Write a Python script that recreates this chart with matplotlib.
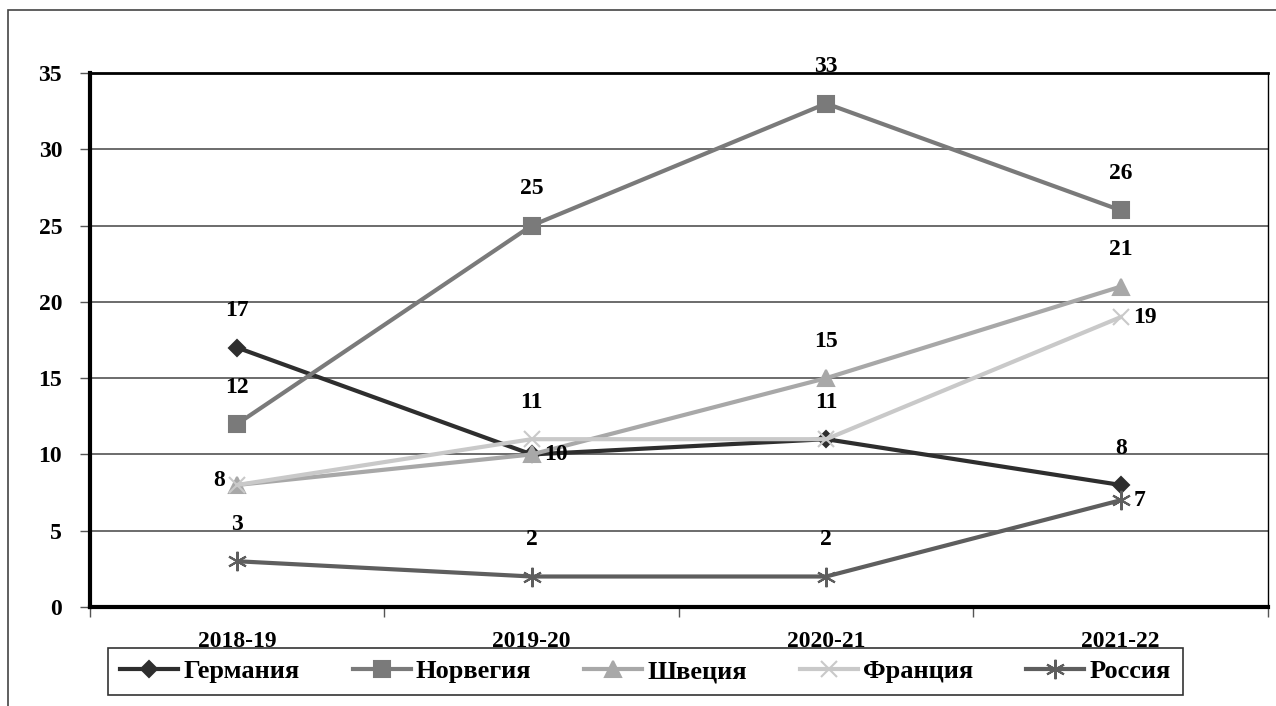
import matplotlib
matplotlib.use("Agg")
import matplotlib.pyplot as plt
from matplotlib.patches import Rectangle

# data
seasons = ["2018-19", "2019-20", "2020-21", "2021-22"]
germany = [17, 10, 11, 8]
norway = [12, 25, 33, 26]
sweden = [8, 10, 15, 21]
france = [8, 11, 11, 19]
russia = [3, 2, 2, 7]

names = ["Германия", "Норвегия", "Швеция", "Франция", "Россия"]
values = [germany, norway, sweden, france, russia]

# look of each series (grayscale scan)
colors = ["#2e2e2e", "#7a7a7a", "#a8a8a8", "#c9c9c9", "#5e5e5e"]
markers = ["D", "s", "^", "x", (6, 2, 0)]
msizes = [8, 12, 11, 11, 14]
# where each value label sits: a=above, r=right, l=left, None=hidden
label_pos = [
    ["a", "r", "a", "a"],
    ["a", "a", "a", "a"],
    [None, None, "a", "a"],
    ["l", "a", None, "r"],
    ["a", "a", "a", "r"],
]

FAM = ["Liberation Serif", "DejaVu Serif"]
plt.rcParams["font.family"] = FAM
plt.rcParams["font.weight"] = "bold"

fig = plt.figure(figsize=(12.76, 7.06), dpi=100)
ax = fig.add_axes([0.0705, 0.1402, 0.9232, 0.7564])

x = range(len(seasons))
for name, vals, c, m, ms, lp in zip(names, values, colors, markers, msizes, label_pos):
    ax.plot(x, vals, color=c, lw=3, marker=m, ms=ms, mec=c, mfc=c,
            mew=1.5, label=name, zorder=3)
    for xi, v, p in zip(x, vals, lp):
        if p is None:
            continue
        if p == "a":
            off, ha, va = (0, 19), "center", "bottom"
        elif p == "r":
            off, ha, va = (9, 0), "left", "center"
        else:
            off, ha, va = (-9, 3), "right", "center"
        ax.annotate(str(v), (xi, v), xytext=off, textcoords="offset points",
                    ha=ha, va=va, fontsize=17, fontweight="bold", color="black",
                    family=FAM, zorder=5)

ax.set_xlim(-0.5, 3.5)
ax.set_ylim(0, 35)
ax.set_yticks(range(0, 36, 5))
ax.set_xticks(list(x))
ax.set_xticklabels(seasons)
ax.set_xticks([-0.5, 0.5, 1.5, 2.5, 3.5], minor=True)
ax.tick_params(axis="x", which="major", length=0, pad=17, labelsize=17)
ax.tick_params(axis="x", which="minor", length=7, width=1, color="#555555")
ax.tick_params(axis="y", length=7, width=1, pad=13, labelsize=17, color="#555555")
ax.grid(axis="y", color="#444444", lw=1.1, zorder=1)

for side, lw in [("left", 3), ("bottom", 3), ("top", 2), ("right", 1)]:
    ax.spines[side].set_linewidth(lw)
    ax.spines[side].set_color("black")

leg = fig.legend(loc="lower center", bbox_to_anchor=(0.506, 0.0156), ncol=5,
                 frameon=True, fancybox=False, edgecolor="black",
                 prop={"family": FAM, "size": 19, "weight": "bold"},
                 handlelength=2.2, columnspacing=2.0, handletextpad=0.2,
                 borderpad=0.45, borderaxespad=0)
leg.get_frame().set_linewidth(1.2)

# outer chart border from the scan
fig.patches.append(Rectangle((8 / 1276, -0.1), 1.2, (706 - 10) / 706 + 0.1,
                             transform=fig.transFigure, fill=False,
                             edgecolor="#444444", lw=1.2))

fig.savefig("out.png", dpi=100)
